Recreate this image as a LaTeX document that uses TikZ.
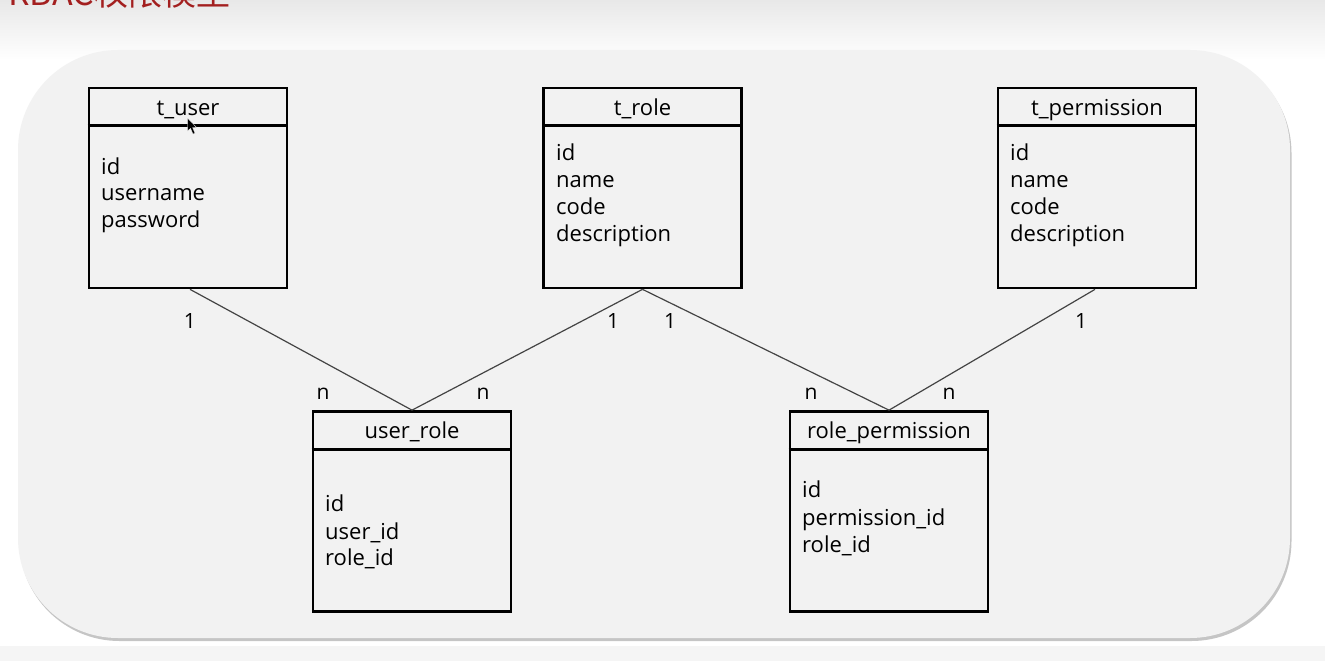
\documentclass[tikz,border=0pt]{standalone}
\usepackage{fontspec}
\setmainfont{Open Sans}
\newfontfamily\cjkfont{Noto Sans CJK SC}
\usetikzlibrary{shadows}
\definecolor{panel}{HTML}{F2F2F2}
\definecolor{titlered}{HTML}{A31F1F}
\definecolor{linkgray}{HTML}{444444}
\tikzset{
  tbl/.style={draw=black, line width=2.7pt, minimum width=198pt, minimum height=200pt, inner sep=0pt},
  hdr/.style={anchor=base, inner sep=0pt, font=\fontsize{22}{26}\selectfont},
  fld/.style={anchor=base west, inner sep=0pt, font=\fontsize{22}{26}\selectfont},
  card/.style={anchor=center, inner sep=0pt, font=\fontsize{21}{25}\selectfont},
  link/.style={draw=linkgray, line width=1.2pt},
  divider/.style={draw=black, line width=2.7pt}
}
\begin{document}
\begin{tikzpicture}[x=1pt,y=-1pt]
\useasboundingbox (0,0) rectangle (1325,661);
\clip (0,0) rectangle (1325,661);
% page background
\fill[white] (0,0) rectangle (1325,661);
\shade[top color=gray!18, bottom color=white] (0,0) rectangle (1325,60);
\fill[gray!8] (0,646) rectangle (1325,661);
% title (cut off at top)
\node[anchor=base west, inner sep=0pt, text=titlered, font=\fontsize{34}{40}\selectfont\cjkfont] (title) at (8,6) {RBAC权限模型};
% panel
\fill[panel, rounded corners=100pt, drop shadow={shadow xshift=1.5pt, shadow yshift=-3pt, opacity=0.45, fill=gray}]
  (18,50) rectangle (1290,638);
% tables
\node[tbl] (tuser) at (188,188) {};
\node[tbl] (trole) at (642.5,188) {};
\node[tbl] (tperm) at (1097,188) {};
\node[tbl] (urole) at (412,511.5) {};
\node[tbl] (rperm) at (889,511.5) {};
% dividers
\foreach \n in {tuser,trole,tperm,urole,rperm}
  \draw[divider] ([yshift=-39pt]\n.north west) -- ([yshift=-39pt]\n.north east);
% headers
\node[hdr] (tuserh) at (188,115) {t\_user};
\node[hdr] (troleh) at (642.5,115) {t\_role};
\node[hdr] (tpermh) at (1097,115) {t\_permission};
\node[hdr] (uroleh) at (412,438.5) {user\_role};
\node[hdr] (rpermh) at (889,438.5) {role\_permission};
% fields
\node[fld] (tu1) at (101,174) {id};
\node[fld] (tu2) at (101,200.5) {username};
\node[fld] (tu3) at (101,227) {password};
\node[fld] (tr1) at (556,160.7) {id};
\node[fld] (tr2) at (556,187.5) {name};
\node[fld] (tr3) at (556,214) {code};
\node[fld] (tr4) at (556,241) {description};
\node[fld] (tp1) at (1010,160.7) {id};
\node[fld] (tp2) at (1010,187.5) {name};
\node[fld] (tp3) at (1010,214) {code};
\node[fld] (tp4) at (1010,241) {description};
\node[fld] (ur1) at (325,511.5) {id};
\node[fld] (ur2) at (325,539) {user\_id};
\node[fld] (ur3) at (325,565.5) {role\_id};
\node[fld] (rp1) at (802,497) {id};
\node[fld] (rp2) at (802,525) {permission\_id};
\node[fld] (rp3) at (802,552) {role\_id};
% connectors
\draw[link] ([xshift=2pt]tuser.south) -- (urole.north);
\draw[link] (trole.south) -- (urole.north);
\draw[link] (trole.south) -- (rperm.north);
\draw[link] ([xshift=-2pt]tperm.south) -- (rperm.north);
% cardinalities
\node[card] (c1) at (190,321) {1};
\node[card] (c2) at (613,321) {1};
\node[card] (c3) at (670,321) {1};
\node[card] (c4) at (1081,321) {1};
\node[card] (c5) at (323,394) {n};
\node[card] (c6) at (483,394) {n};
\node[card] (c7) at (811,394) {n};
\node[card] (c8) at (949,394) {n};
% mouse cursor
\fill[black, draw=white, line width=0.3pt] (187.5,118) -- (187.5,131) -- (190.5,128.3) -- (193,134) -- (195,133.2) -- (192.6,127.6) -- (196.5,127.4) -- cycle;
\end{tikzpicture}
\end{document}
